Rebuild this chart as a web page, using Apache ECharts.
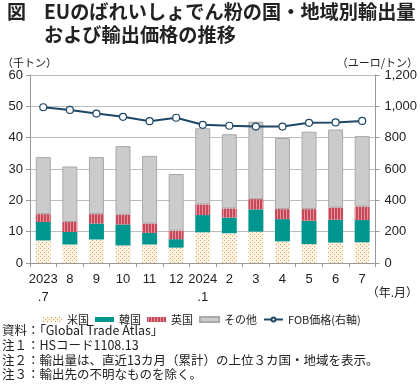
<!DOCTYPE html>
<html><head><meta charset="utf-8">
<script src="https://cdn.jsdelivr.net/npm/echarts@6/dist/echarts.min.js"></script>
<style>html,body{margin:0;padding:0;background:#fff}#c{width:420px;height:384px}</style>
</head><body><div id="c"></div>
<script>
var categories = ['2023\n.7','8','9','10','11','12','2024\n.1','2','3','4','5','6','7'];
var usa    = [7.2, 5.9, 7.5, 5.6, 5.9, 4.9, 9.8, 9.5, 10.0, 6.9, 6.0, 6.5, 6.6];
var korea  = [5.9, 4.0, 5.1, 6.7, 3.7, 2.7, 5.5, 5.0, 7.1, 7.1, 7.5, 7.3, 7.1];
var uk     = [2.5, 3.2, 3.0, 3.1, 3.0, 2.7, 3.4, 2.9, 3.3, 3.2, 3.7, 3.9, 4.3];
var others = [18.2, 17.7, 18.2, 21.9, 21.6, 18.1, 24.3, 23.7, 24.7, 22.7, 24.7, 24.9, 22.5];
var fob    = [994, 977, 954, 933, 905, 927, 882, 876, 871, 871, 895, 897, 907];
var leftTicks = [0, 60, 10];
var rightTicks = [0, 1200, 200];

function dotPattern(){
  var c = document.createElement('canvas'); c.width = 4; c.height = 4;
  var g = c.getContext('2d');
  g.fillStyle = '#fdf3e2'; g.fillRect(0,0,4,4);
  g.fillStyle = '#d9a460'; g.fillRect(0,0,1,1); g.fillRect(2,2,1,1);
  return {image: c, repeat: 'repeat'};
}
function stripePattern(){
  var c = document.createElement('canvas'); c.width = 3; c.height = 3;
  var g = c.getContext('2d');
  g.fillStyle = '#c44a5a'; g.fillRect(0,0,3,3);
  g.fillStyle = '#e8909c'; g.fillRect(1,0,1,3);
  return {image: c, repeat: 'repeat'};
}
var FONT = '"Liberation Sans", Arial, "Noto Sans CJK JP", sans-serif';
var JFONT = '"Noto Sans CJK JP", sans-serif';
var chart = echarts.init(document.getElementById('c'), null, {renderer: 'canvas'});
var barW = 15;
chart.setOption({
  animation: false,
  textStyle: {fontFamily: FONT},
  grid: {left: 30, right: 41, top: 75, bottom: 121},
  legend: {
    top: 309, left: 38, width: 390, itemWidth: 19, itemHeight: 5, itemGap: 6,
    textStyle: {fontSize: 11, color: '#222', fontFamily: JFONT},
    data: [{name:'米国', icon:'rect'},{name:'韓国', icon:'rect'},{name:'英国', icon:'rect'},{name:'その他', icon:'rect'},{name:'FOB価格(右軸)'}]
  },
  xAxis: {
    type: 'category', data: categories,
    axisLine: {lineStyle: {color: '#999'}},
    axisTick: {show: true, lineStyle: {color: '#999'}, length: 4},
    axisLabel: {color: '#222', fontSize: 13, lineHeight: 18, margin: 7, interval: 0}
  },
  yAxis: [
    {type: 'value', min: leftTicks[0], max: leftTicks[1], interval: leftTicks[2],
     axisLine: {show: true, lineStyle: {color: '#999'}},
     axisTick: {show: true, length: 4, lineStyle: {color: '#999'}},
     splitLine: {lineStyle: {color: '#bdbdbd'}},
     axisLabel: {color: '#222', fontSize: 13, margin: 7}},
    {type: 'value', min: rightTicks[0], max: rightTicks[1], interval: rightTicks[2],
     axisLine: {show: true, lineStyle: {color: '#999'}},
     axisTick: {show: true, length: 4, lineStyle: {color: '#999'}},
     splitLine: {show: false},
     axisLabel: {color: '#222', fontSize: 13, margin: 9,
       formatter: function(v){ return v.toLocaleString('en-US'); }}}
  ],
  series: [
    {name: '米国', type: 'bar', stack: 's', data: usa, barWidth: barW,
     itemStyle: {color: dotPattern()}},
    {name: '韓国', type: 'bar', stack: 's', data: korea, barWidth: barW,
     itemStyle: {color: '#009690'}},
    {name: '英国', type: 'bar', stack: 's', data: uk, barWidth: barW,
     itemStyle: {color: stripePattern()}},
    {name: 'その他', type: 'bar', stack: 's', data: others, barWidth: barW,
     itemStyle: {color: '#cbcbcb', borderColor: '#a9a9a9', borderWidth: 1}},
    {name: 'FOB価格(右軸)', type: 'line', yAxisIndex: 1, data: fob,
     symbol: 'circle', symbolSize: 7,
     lineStyle: {color: '#1d4766', width: 2},
     itemStyle: {color: '#fff', borderColor: '#1d4766', borderWidth: 1.2}}
  ],
  graphic: [
    {type: 'text', left: 7, top: 2, style: {text: '図', font: 'bold 19px ' + JFONT, fill: '#222'}},
    {type: 'text', left: 44, top: 2, style: {text: 'EUのばれいしょでん粉の国・地域別輸出量', font: 'bold 19.2px ' + JFONT, fill: '#222'}},
    {type: 'text', left: 44, top: 25, style: {text: 'および輸出価格の推移', font: 'bold 19.2px ' + JFONT, fill: '#222'}},
    {type: 'text', left: 2, top: 57, style: {text: '（千トン）', font: '11px ' + JFONT, fill: '#222'}},
    {type: 'text', right: 2, top: 57, style: {text: '（ユーロ/トン）', font: '11px ' + JFONT, fill: '#222'}},
    {type: 'text', right: 2, top: 286, style: {text: '（年.月）', font: '12px ' + JFONT, fill: '#222'}},
    {type: 'text', left: 2, top: 324, style: {text: '資料：「Global Trade Atlas」', font: '12.5px ' + JFONT, fill: '#222'}},
    {type: 'text', left: 2, top: 339, style: {text: '注１：HSコード1108.13', font: '12.5px ' + JFONT, fill: '#222'}},
    {type: 'text', left: 2, top: 354, style: {text: '注２：輸出量は、直近13カ月（累計）の上位３カ国・地域を表示。', font: '12.5px ' + JFONT, fill: '#222'}},
    {type: 'text', left: 2, top: 368, style: {text: '注３：輸出先の不明なものを除く。', font: '12.5px ' + JFONT, fill: '#222'}}
  ]
});
</script></body></html>
